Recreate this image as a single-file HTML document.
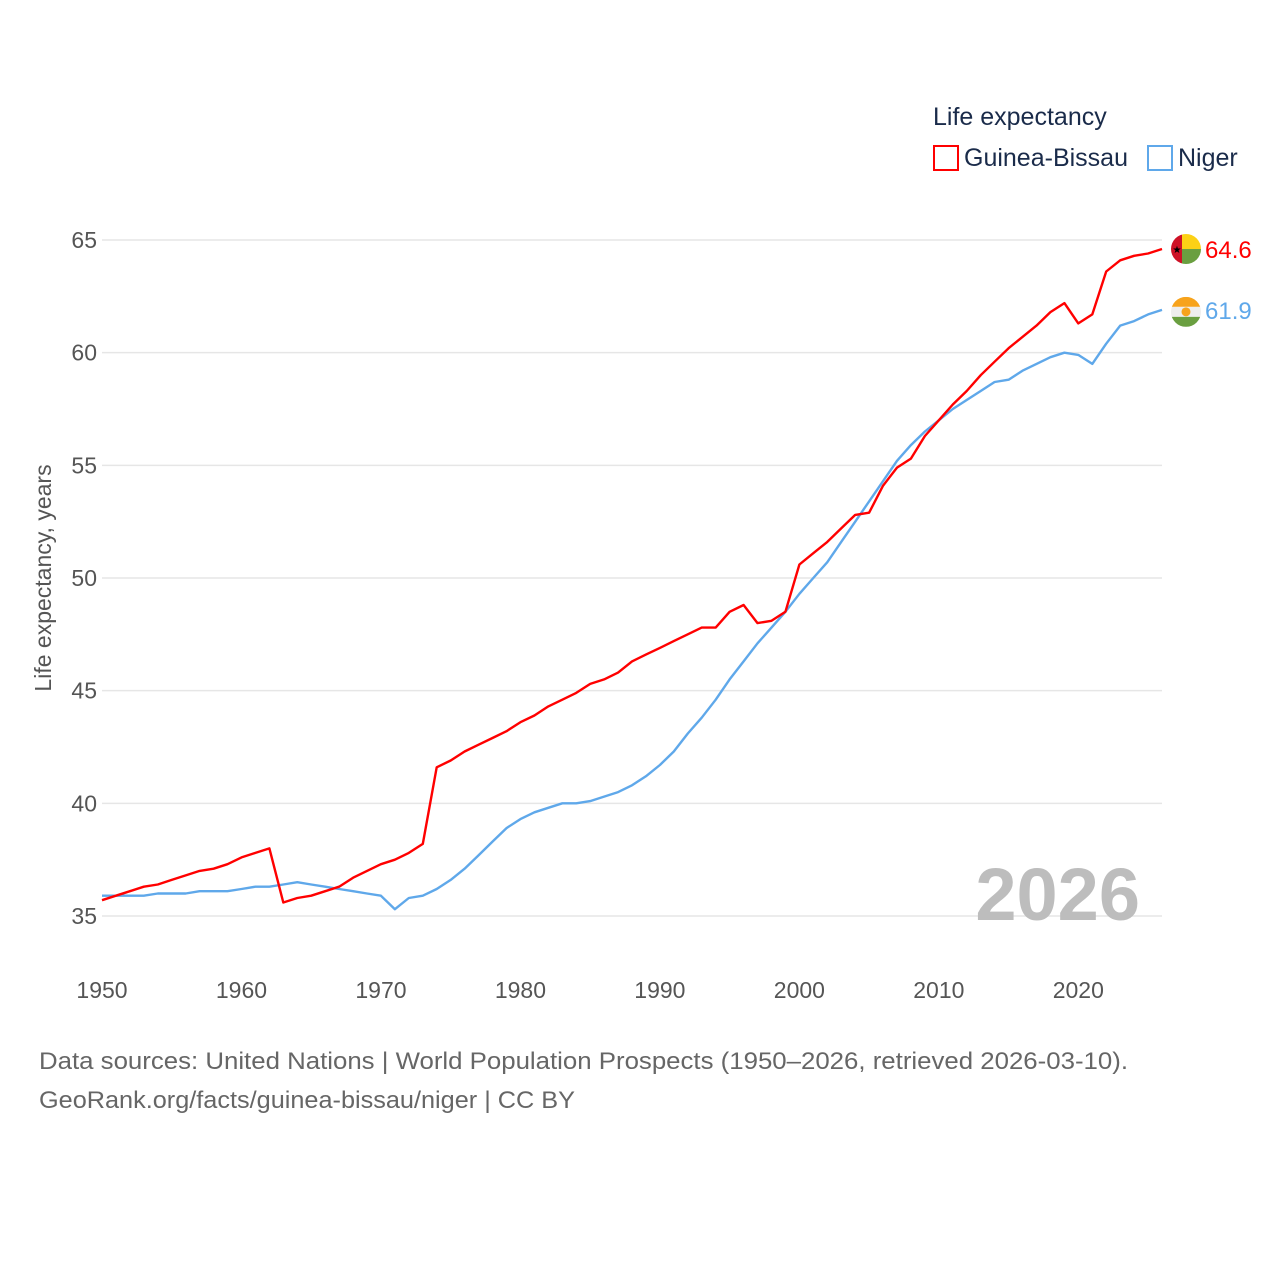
<!DOCTYPE html>
<html><head><meta charset="utf-8"><style>
html,body{margin:0;padding:0;background:#fff;}
svg{display:block;font-family:"Liberation Sans",sans-serif;}
</style></head><body>
<svg id="chart" width="1280" height="1280" viewBox="0 0 1280 1280" xmlns="http://www.w3.org/2000/svg">
<rect width="1280" height="1280" fill="#fff"/>
<g id="legend">
<text x="933" y="125" font-size="25" fill="#1a2b4a">Life expectancy</text>
<g>
<rect x="934" y="146" width="24" height="24" fill="none" stroke="#ff0000" stroke-width="2"/>
<text x="964" y="166" font-size="25" fill="#1a2b4a">Guinea-Bissau</text></g>
<g>
<rect x="1148" y="146" width="24" height="24" fill="none" stroke="#5fa8ea" stroke-width="2"/>
<text x="1178" y="166" font-size="25" fill="#1a2b4a">Niger</text></g>
</g>
<g id="grid"></g><g id="yt"></g><g id="xt"></g><g id="lines"></g>
<text x="1140" y="920" font-size="74" font-weight="bold" fill="#bdbdbd" text-anchor="end">2026</text>
<text transform="translate(51,578) rotate(-90)" font-size="23" fill="#555" text-anchor="middle">Life expectancy, years</text>
<text x="39" y="1069" font-size="24" fill="#666" textLength="1089" lengthAdjust="spacingAndGlyphs">Data sources: United Nations | World Population Prospects (1950–2026, retrieved 2026-03-10).</text>
<text x="39" y="1108" font-size="24" fill="#666" textLength="536" lengthAdjust="spacingAndGlyphs">GeoRank.org/facts/guinea-bissau/niger | CC BY</text>
<g id="ends"></g>
</svg>
<script>
const years=[];for(let y=1950;y<=2026;y++)years.push(y);
const yTicks=[35,40,45,50,55,60,65];
const xTicks=[1950,1960,1970,1980,1990,2000,2010,2020];
const guineaBissau=[35.7,35.9,36.1,36.3,36.4,36.6,36.8,37.0,37.1,37.3,37.6,37.8,38.0,35.6,35.8,35.9,36.1,36.3,36.7,37.0,37.3,37.5,37.8,38.2,41.6,41.9,42.3,42.6,42.9,43.2,43.6,43.9,44.3,44.6,44.9,45.3,45.5,45.8,46.3,46.6,46.9,47.2,47.5,47.8,47.8,48.5,48.8,48.0,48.1,48.5,50.6,51.1,51.6,52.2,52.8,52.9,54.1,54.9,55.3,56.3,57.0,57.7,58.3,59.0,59.6,60.2,60.7,61.2,61.8,62.2,61.3,61.7,63.6,64.1,64.3,64.4,64.6];
const niger=[35.9,35.9,35.9,35.9,36.0,36.0,36.0,36.1,36.1,36.1,36.2,36.3,36.3,36.4,36.5,36.4,36.3,36.2,36.1,36.0,35.9,35.3,35.8,35.9,36.2,36.6,37.1,37.7,38.3,38.9,39.3,39.6,39.8,40.0,40.0,40.1,40.3,40.5,40.8,41.2,41.7,42.3,43.1,43.8,44.6,45.5,46.3,47.1,47.8,48.5,49.3,50.0,50.7,51.6,52.5,53.4,54.3,55.2,55.9,56.5,57.0,57.5,57.9,58.3,58.7,58.8,59.2,59.5,59.8,60.0,59.9,59.5,60.4,61.2,61.4,61.7,61.9];
const NS='http://www.w3.org/2000/svg';
const X=y=>102+(y-1950)*(1162-102)/76;
const Y=v=>240+(65-v)*(916-240)/30;
function mk(t,a,p){const e=document.createElementNS(NS,t);for(const k in a)e.setAttribute(k,a[k]);p.appendChild(e);return e;}
const grid=document.getElementById('grid'),yt=document.getElementById('yt'),xt=document.getElementById('xt'),lines=document.getElementById('lines'),ends=document.getElementById('ends');
yTicks.forEach(v=>{
const l=mk('line',{x1:102,x2:1162,y1:Y(v),y2:Y(v),stroke:'#e6e6e6','stroke-width':1.5},grid);


const t=mk('text',{x:97,y:Y(v)+8,'font-size':23,fill:'#555','text-anchor':'end'},yt);t.textContent=v;


});
xTicks.forEach(v=>{
const t=mk('text',{x:X(v),y:998,'font-size':23,fill:'#555','text-anchor':'middle'},xt);t.textContent=v;


});
function line(data,color,name){
const d=data.map((v,i)=>(i?'L':'M')+X(years[i]).toFixed(1)+','+Y(v).toFixed(1)).join(' ');
const p=mk('path',{d:d,fill:'none',stroke:color,'stroke-width':2.4,'stroke-linejoin':'round'},lines);


}
line(niger,'#5fa8ea','line-niger');
line(guineaBissau,'#ff0000','line-guinea-bissau');
const gv=guineaBissau[guineaBissau.length-1],nv=niger[niger.length-1];
const gy=Y(gv),ny=Y(nv)+2;
const fg=mk('g',{},ends);


const cp1=mk('clipPath',{id:'c1'},fg);mk('circle',{cx:1186,cy:gy,r:15},cp1);
const g1=mk('g',{'clip-path':'url(#c1)'},fg);
mk('rect',{x:1171,y:gy-15,width:11,height:30,fill:'#ce1126'},g1);
mk('rect',{x:1182,y:gy-15,width:20,height:15,fill:'#fcd116'},g1);
mk('rect',{x:1182,y:gy,width:20,height:15,fill:'#6a9f40'},g1);
const st=mk('text',{x:1177,y:gy+4,'font-size':10,fill:'#000','text-anchor':'middle'},g1);st.textContent='★';
const fn=mk('g',{},ends);


const cp=mk('clipPath',{id:'c2'},fn);mk('circle',{cx:1186,cy:ny,r:15},cp);
const g2=mk('g',{'clip-path':'url(#c2)'},fn);
mk('rect',{x:1171,y:ny-15,width:30,height:10,fill:'#f7a31c'},g2);
mk('rect',{x:1171,y:ny-5,width:30,height:10,fill:'#eeeeee'},g2);
mk('rect',{x:1171,y:ny+5,width:30,height:10,fill:'#6a9f40'},g2);
mk('circle',{cx:1186,cy:ny,r:4.5,fill:'#f7a31c'},g2);
const t1=mk('text',{x:1205,y:gy+9,'font-size':24,fill:'#ff0000'},ends);t1.textContent=gv.toFixed(1);


const t2=mk('text',{x:1205,y:ny+7,'font-size':24,fill:'#5fa8ea'},ends);t2.textContent=nv.toFixed(1);


</script>
</body></html>
